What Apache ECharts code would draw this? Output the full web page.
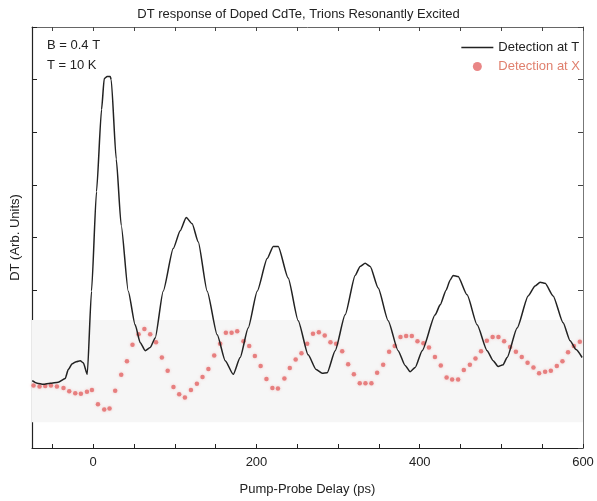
<!DOCTYPE html>
<html>
<head>
<meta charset="utf-8">
<script src="https://cdn.jsdelivr.net/npm/echarts@6/dist/echarts.min.js"></script>
<style>html,body{margin:0;padding:0;background:#fff}#c{width:597px;height:501px}</style>
</head>
<body>
<div id="c"></div>
<script>
// Detection at T (solid line): delay (ps), DT (arb.)
const tDelay = [-74.7,-68.6,-61.2,-52.7,-42.9,-34.3,-30.6,-25.7,-20.8,-15.9,-12.2,-7.3,-2.1,4.0,10.2,13.5,17.1,20.8,22.0,28.2,34.3,42.9,51.4,57.6,63.7,69.8,75.9,85.7,98.0,106.6,113.9,121.2,128.6,139.6,151.9,161.7,171.5,180.0,189.8,200.9,213.1,220.5,226.6,238.8,251.1,263.3,273.1,280.5,286.6,296.4,308.6,320.9,327.0,333.1,339.3,349.1,361.3,373.5,382.1,388.3,394.4,403.0,418.9,425.0,432.3,437.2,440.9,447.0,458.0,470.3,482.5,489.9,496.0,502.1,507.0,519.3,532.8,541.3,547.5,553.6,563.4,575.6,584.2,591.5,598.9];
const tValue = [1.28,1.23,1.21,1.23,1.25,1.32,1.49,1.60,1.64,1.66,1.62,1.40,2.98,4.87,6.43,7.02,7.06,7.06,7.00,5.49,4.23,2.98,2.34,2.00,1.85,1.91,2.09,2.98,3.79,4.13,4.38,4.26,3.92,2.98,2.15,1.66,1.40,1.72,2.28,2.98,3.60,3.83,3.83,3.23,2.42,1.77,1.49,1.42,1.43,1.85,2.53,3.28,3.45,3.51,3.45,3.04,2.42,1.85,1.57,1.45,1.53,1.85,2.53,2.72,3.00,3.19,3.28,3.26,2.91,2.34,1.85,1.66,1.55,1.58,1.72,2.28,2.89,3.08,3.15,3.13,2.89,2.38,2.04,1.87,1.72];
// Detection at X (dots)
const xDelay = [-73.1,-65.8,-58.8,-51.8,-44.5,-36.4,-29.4,-22.0,-15.1,-7.7,-1.6,5.8,13.5,20.0,26.9,34.3,41.3,48.1,55.5,62.7,69.8,76.9,84.1,91.2,98.3,105.3,112.3,119.7,127.0,133.9,141.1,148.2,155.5,162.5,169.5,176.4,184.1,191.1,198.0,205.1,212.2,219.5,226.3,234.2,240.8,248.0,255.1,262.1,269.2,276.4,283.6,290.6,297.6,305.0,312.3,319.3,326.5,333.5,340.8,347.8,355.2,362.5,369.4,376.4,383.3,390.3,397.2,404.5,411.3,418.6,425.8,432.9,439.7,447.0,454.0,461.4,468.3,475.1,482.2,489.3,496.4,503.4,510.7,517.8,525.0,532.1,539.3,546.2,553.6,560.6,567.9,574.8,581.7,588.8,596.1];
const xValue = [1.19,1.17,1.18,1.19,1.17,1.14,1.08,1.04,1.03,1.07,1.10,0.83,0.73,0.75,1.09,1.39,1.65,1.96,2.16,2.26,2.16,2.01,1.72,1.47,1.16,1.02,0.96,1.10,1.22,1.35,1.50,1.76,1.98,2.19,2.19,2.22,2.03,1.94,1.75,1.56,1.31,1.14,1.13,1.32,1.52,1.68,1.80,1.98,2.17,2.20,2.14,2.01,1.98,1.84,1.59,1.40,1.23,1.23,1.23,1.43,1.58,1.83,1.94,2.11,2.13,2.13,2.03,1.99,1.91,1.73,1.57,1.34,1.30,1.30,1.48,1.58,1.70,1.84,2.04,2.11,2.11,2.03,1.92,1.83,1.73,1.62,1.53,1.42,1.45,1.47,1.56,1.65,1.82,1.94,2.02];
const xTickLabels = [0, 200, 400, 600];
const xTicks = [-50, 0, 50, 100, 150, 200, 250, 300, 350, 400, 450, 500, 550, 600];
const bandRange = [0.49, 2.43];

const font = '"Liberation Sans", Arial, sans-serif';
const chart = echarts.init(document.getElementById('c'));
chart.setOption({
  animation: false,
  backgroundColor: '#fff',
  textStyle: { fontFamily: font },
  title: [
    { text: 'DT response of Doped CdTe, Trions Resonantly Excited', left: 'center', top: 3,
      textStyle: { fontFamily: font, fontSize: 13, fontWeight: 'normal', color: '#222' } },
    { text: 'B = 0.4 T\nT = 10 K', left: 42, top: 30,
      textStyle: { fontFamily: font, fontSize: 13, fontWeight: 'normal', color: '#222', lineHeight: 20 } }
  ],
  legend: {
    orient: 'vertical', right: 12, top: 36, itemGap: 6, itemWidth: 32, itemHeight: 9,
    textStyle: { fontFamily: font, fontSize: 13, color: '#222' },
    data: [
      { name: 'Detection at T', icon: 'path://M0,0H32V1.5H0Z' },
      { name: 'Detection at X', icon: 'circle', textStyle: { color: '#e0806e' } }
    ]
  },
  grid: { left: 32, right: 14, top: 27, bottom: 51 },
  xAxis: [
    { type: 'value', min: -75, max: 600, position: 'bottom',
      name: 'Pump-Probe Delay (ps)', nameLocation: 'middle', nameGap: 35,
      nameTextStyle: { fontFamily: font, fontSize: 13, color: '#222' },
      axisLine: { onZero: false, lineStyle: { color: '#222', width: 1.2 } },
      axisTick: { inside: true, length: 4, customValues: xTicks, lineStyle: { color: '#222' } },
      axisLabel: { customValues: xTickLabels, fontFamily: font, fontSize: 13, color: '#222', margin: 8 },
      splitLine: { show: false } },
    { type: 'value', min: -75, max: 600, position: 'top',
      axisLine: { show: true, onZero: false, lineStyle: { color: '#666', width: 1 } },
      axisTick: { inside: true, length: 4, customValues: xTicks, lineStyle: { color: '#444' } },
      axisLabel: { show: false }, splitLine: { show: false } }
  ],
  yAxis: [
    { type: 'value', min: 0, max: 8, interval: 1, position: 'left',
      name: 'DT (Arb. Units)', nameLocation: 'middle', nameGap: 10, nameRotate: 90,
      nameTextStyle: { fontFamily: font, fontSize: 13, color: '#222' },
      axisLine: { show: true, onZero: false, lineStyle: { color: '#222', width: 1.2 } },
      axisTick: { inside: true, length: 5, lineStyle: { color: '#222' } },
      axisLabel: { show: false }, splitLine: { show: false } },
    { type: 'value', min: 0, max: 8, interval: 1, position: 'right',
      axisLine: { show: true, onZero: false, lineStyle: { color: '#777', width: 1 } },
      axisTick: { inside: true, length: 5, lineStyle: { color: '#444' } },
      axisLabel: { show: false }, splitLine: { show: false } }
  ],
  series: [
    { name: 'Detection at T', type: 'line', xAxisIndex: 0, yAxisIndex: 0,
      data: tDelay.map((d, i) => [d, tValue[i]]),
      symbol: 'none', smooth: 0.2, smoothMonotone: 'x', z: 3,
      lineStyle: { color: '#222', width: 1.5 }, itemStyle: { color: '#222' },
      markArea: { silent: true, itemStyle: { color: '#f6f6f6' },
        data: [[{ yAxis: bandRange[0], xAxis: -75 }, { yAxis: bandRange[1], xAxis: 600 }]] } },
    { name: 'Detection at X', type: 'scatter', xAxisIndex: 0, yAxisIndex: 0,
      data: xDelay.map((d, i) => [d, xValue[i]]),
      symbol: 'circle', symbolSize: 4.5, z: 2,
      itemStyle: { color: '#e36868', shadowBlur: 3, shadowColor: 'rgba(240,130,130,0.5)' } }
  ]
});
</script>
</body>
</html>
